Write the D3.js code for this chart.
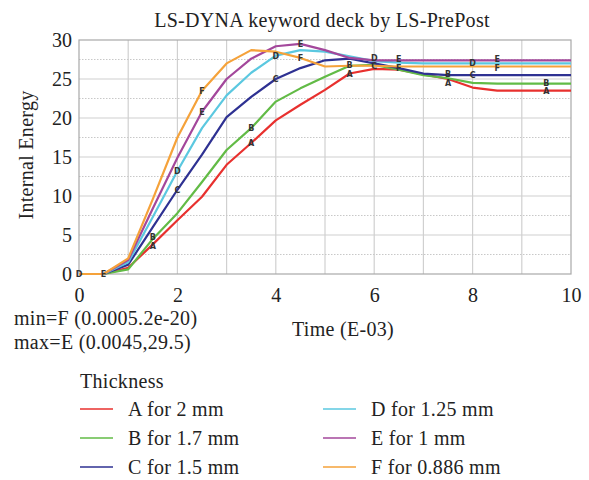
<!DOCTYPE html>
<html><head><meta charset="utf-8">
<script src="https://cdn.jsdelivr.net/npm/d3@7"></script>
<style>body{margin:0;background:#fff}svg text{font-family:"Liberation Serif","Times New Roman",serif;fill:#222}</style>
</head><body><svg id="c" width="589" height="480"></svg>
<script>
const times = [0,0.5,1,1.5,2,2.5,3,3.5,4,4.5,5,5.5,6,6.5,7,7.5,8,8.5,9,9.5,10];
const seriesNames = ["A","B","C","D","E","F"];
const seriesLabels = ["A for 2 mm","B for 1.7 mm","C for 1.5 mm","D for 1.25 mm","E for 1 mm","F for 0.886 mm"];
const seriesColors = ["#e8302e","#62bb46","#2e3192","#5bc8e0","#a3479b","#f5a23a"];
const valuesA = [0,0,0.8,3.8,6.9,9.9,14.0,16.8,19.7,21.7,23.6,25.7,26.3,26.2,25.6,25.0,23.9,23.5,23.5,23.5,23.5];
const valuesB = [0,0,0.6,4.5,7.8,11.8,15.9,18.7,22.1,23.8,25.3,26.7,26.8,26.2,25.5,25.1,24.5,24.4,24.4,24.4,24.4];
const valuesC = [0,0,1.2,6.0,10.8,15.3,20.1,22.7,25.0,26.4,27.4,27.6,27.0,26.4,25.7,25.5,25.5,25.5,25.5,25.5,25.5];
const valuesD = [0,0,1.5,7.3,13.2,18.7,22.9,25.8,28.0,28.7,28.5,27.9,27.3,27.1,27.0,27.0,27.0,27.0,27.0,27.0,27.0];
const valuesE = [0,0,1.8,8.4,14.9,20.8,25.0,27.6,29.2,29.5,28.7,27.7,27.4,27.4,27.4,27.4,27.4,27.4,27.4,27.4,27.4];
const valuesF = [0,0,2.0,9.6,17.5,23.5,27.0,28.7,28.5,27.7,26.6,26.7,26.7,26.6,26.6,26.6,26.6,26.6,26.6,26.6,26.6];
const allValues = [valuesA,valuesB,valuesC,valuesD,valuesE,valuesF];
// times where each curve carries its letter marker
const markerTimes = [[1.5,3.5,5.5,7.5,9.5],[1.5,3.5,5.5,7.5,9.5],[2,4,6,8],[0,2,4,6,8],[0.5,2.5,4.5,6.5,8.5],[2.5,4.5,6.5,8.5]];
const xTicks = [0,2,4,6,8,10];
const yTicks = [0,5,10,15,20,25,30];
const titleText = "LS-DYNA keyword deck by LS-PrePost";
const xTitle = "Time (E-03)";
const yTitle = "Internal Energy";
const minText = "min=F (0.0005.2e-20)";
const maxText = "max=E (0.0045,29.5)";
const legendTitle = "Thickness";

const FS = 20, LS = "0.3px";
const svg = d3.select("#c");
const L=79,R=571,T=40,B=274;
const x = d3.scaleLinear().domain([0,10]).range([L,R]);
const y = d3.scaleLinear().domain([0,30]).range([B,T]);

// grid
const g = svg.append("g");
g.selectAll("line.v").data(d3.range(1,10)).join("line")
  .attr("x1",d=>x(d)).attr("x2",d=>x(d)).attr("y1",T).attr("y2",B)
  .attr("stroke","#d0d0d0").attr("stroke-width",1.2);
g.selectAll("line.h").data(d3.range(5,30,5)).join("line")
  .attr("y1",d=>y(d)).attr("y2",d=>y(d)).attr("x1",L).attr("x2",R)
  .attr("stroke","#cfcfcf").attr("stroke-width",1.2);
g.selectAll("line.hd").data(d3.range(2.5,30,5)).join("line")
  .attr("y1",d=>y(d)).attr("y2",d=>y(d)).attr("x1",L).attr("x2",R)
  .attr("stroke","#c8c8c8").attr("stroke-width",1).attr("stroke-dasharray","1.5,1.5");
g.append("rect").attr("x",L).attr("y",T).attr("width",R-L).attr("height",B-T)
  .attr("fill","none").attr("stroke","#a8a8a8").attr("stroke-width",1.2);

// axes (labels only)
const xa = svg.append("g").attr("transform",`translate(0,${B})`)
  .call(d3.axisBottom(x).tickValues(xTicks).tickSize(0).tickPadding(14).tickFormat(d3.format("d")));
xa.select(".domain").remove();
xa.selectAll("text").attr("font-size",FS).attr("font-family","Liberation Serif").attr("fill","#222");
const ya = svg.append("g").attr("transform",`translate(${L},0)`)
  .call(d3.axisLeft(y).tickValues(yTicks).tickSize(0).tickPadding(7).tickFormat(d3.format("d")));
ya.select(".domain").remove();
ya.selectAll("text").attr("font-size",FS).attr("font-family","Liberation Serif").attr("fill","#222");

// lines
const line = d3.line().x((d,i)=>x(times[i])).y(d=>y(d));
allValues.forEach((vals,k)=>{
  svg.append("path").attr("d",line(vals)).attr("fill","none")
    .attr("stroke",seriesColors[k]).attr("stroke-width",2.2).attr("stroke-linejoin","round");
});
// markers: collect, then separate stacked letters at the same time
const marks = [];
allValues.forEach((vals,k)=>{
  markerTimes[k].forEach(t=>{
    const i = times.indexOf(t);
    marks.push({t, k, py: y(vals[i])});
  });
});
d3.groups(marks, d=>d.t).forEach(([t, arr])=>{
  arr.sort((a,b)=>a.py-b.py);
  for (let j=1;j<arr.length;j++){
    const gap = arr[j].py - arr[j-1].py;
    if (gap < 8.5){
      const push = (8.5-gap)/2;
      arr[j-1].py -= push; arr[j].py += push;
    }
  }
});
marks.forEach(m=>{
  svg.append("text").attr("x",x(m.t)).attr("y",m.py+3)
    .attr("text-anchor","middle").attr("font-size",8).attr("font-weight","bold")
    .style("font-family","DejaVu Sans").style("fill","#333").text(seriesNames[m.k]);
});

// texts
const T1 = (sel)=>sel.attr("font-size",FS).style("letter-spacing",LS);
T1(svg.append("text").attr("x",322).attr("y",27).attr("text-anchor","middle")).text(titleText);
T1(svg.append("text").attr("transform","translate(33,155) rotate(-90)").attr("text-anchor","middle")).text(yTitle);
T1(svg.append("text").attr("x",343).attr("y",336).attr("text-anchor","middle")).text(xTitle);
T1(svg.append("text").attr("x",14).attr("y",325)).text(minText);
T1(svg.append("text").attr("x",14).attr("y",349)).text(maxText);

// legend
T1(svg.append("text").attr("x",80).attr("y",388)).text(legendTitle);
seriesNames.forEach((n,k)=>{
  const col = Math.floor(k/3), row = k%3;
  const lx = col===0?80:323, ly = 409 + row*29;
  svg.append("line").attr("x1",lx).attr("x2",lx+33).attr("y1",ly).attr("y2",ly)
    .attr("stroke",seriesColors[k]).attr("stroke-width",1.5);
  T1(svg.append("text").attr("x",lx+48).attr("y",ly+7)).text(seriesLabels[k]);
});
</script></body></html>
